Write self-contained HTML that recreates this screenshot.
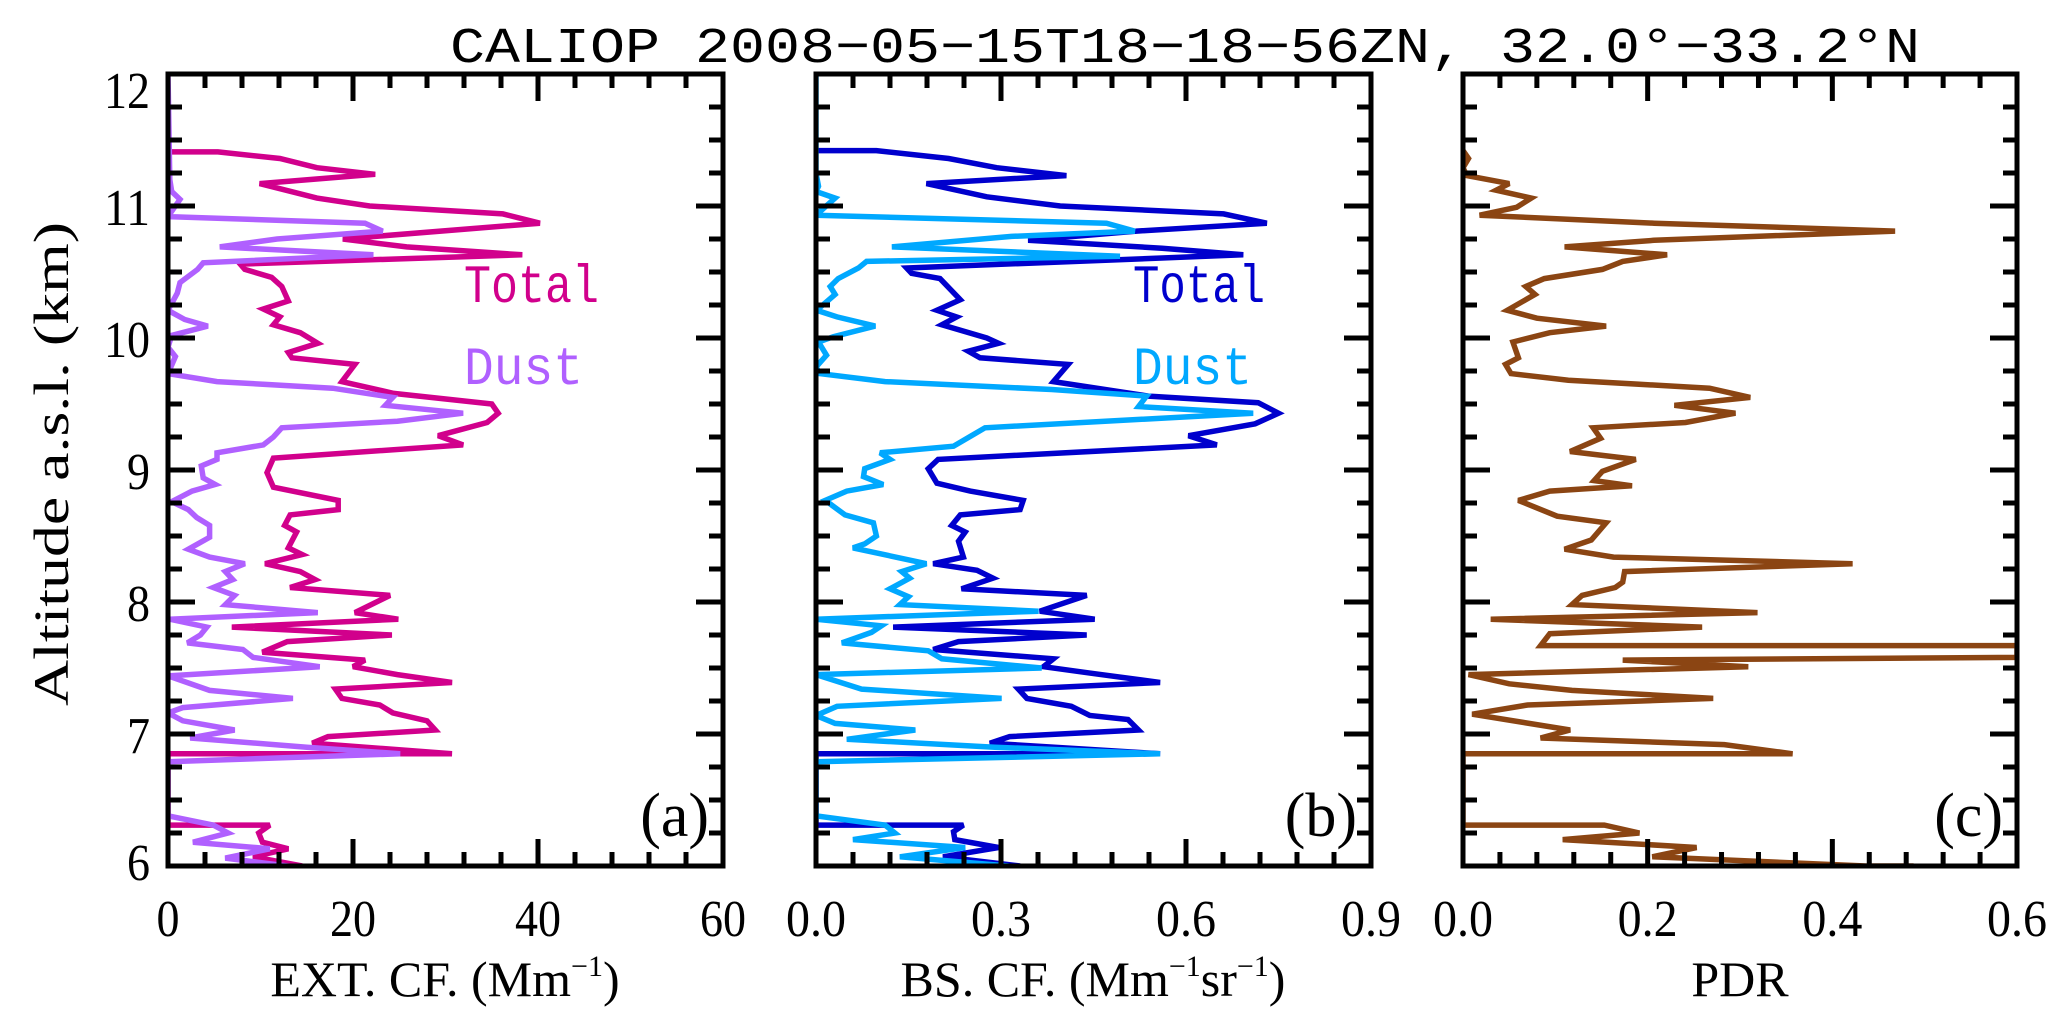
<!DOCTYPE html>
<html><head><meta charset="utf-8"><style>
html,body{margin:0;padding:0;background:#fff;}
svg{display:block;}
</style></head><body>
<svg id="chart" width="2067" height="1020" viewBox="0 0 2067 1020" xmlns="http://www.w3.org/2000/svg">
<rect width="2067" height="1020" fill="#fff"/>
<text x="1185" y="62" text-anchor="middle" font-family="Liberation Mono, monospace" font-size="50" textLength="1470" lengthAdjust="spacingAndGlyphs">CALIOP 2008−05−15T18−18−56ZN, 32.0°−33.2°N</text>
<text transform="translate(68,464) rotate(-90)" text-anchor="middle" font-family="Liberation Serif, serif" font-size="50" textLength="484" lengthAdjust="spacingAndGlyphs">Altitude a.s.l. (km)</text>
<g id="layer"></g>
</svg>
<script>
// ---- data (altitude km / values) ----
const extTotalAlt=[11.41,11.41,11.36,11.29,11.24,11.17,11.06,11.0,10.94,10.87,10.75,10.69,10.63,10.56,10.52,10.46,10.39,10.28,10.22,10.16,10.1,10.04,9.96,9.89,9.85,9.8,9.67,9.58,9.5,9.43,9.36,9.26,9.19,9.09,8.98,8.87,8.77,8.7,8.66,8.58,8.53,8.41,8.36,8.29,8.23,8.17,8.11,8.05,7.92,7.87,7.81,7.75,7.7,7.62,7.56,7.51,7.45,7.39,7.34,7.27,7.22,7.16,7.1,7.03,6.98,6.93,6.85,6.85,6.31,6.31,6.25,6.18,6.13,6.07,6.0];
const extTotalVal=[0,5.4,12.1,16.1,22.4,9.9,16.1,21.8,36.2,40.2,18.9,25.8,38.3,7.8,8.3,11.2,12.3,13.0,10.3,12.1,11.4,14.3,16.2,13.0,13.4,20.2,18.8,24.4,35.0,35.7,34.5,29.2,31.9,11.4,10.7,11.4,18.4,18.4,13.2,12.6,13.9,13.0,14.5,10.5,14.3,15.9,13.2,24.0,20.2,24.9,6.9,24.2,12.9,10.2,21.3,20.0,24.8,30.7,18.1,18.8,22.9,24.3,28.0,28.9,17.3,15.6,30.7,0,0,11.0,9.8,10.2,13.0,9.2,14.5];
const extDustAlt=[12.0,11.2,11.11,11.05,10.92,10.87,10.81,10.75,10.69,10.63,10.57,10.52,10.42,10.34,10.21,10.14,10.09,10.02,9.93,9.86,9.73,9.67,9.62,9.55,9.49,9.43,9.37,9.32,9.25,9.19,9.13,9.08,9.03,8.94,8.89,8.84,8.76,8.7,8.64,8.58,8.49,8.4,8.34,8.29,8.23,8.17,8.11,8.05,7.98,7.92,7.87,7.81,7.75,7.69,7.64,7.58,7.51,7.44,7.33,7.27,7.2,7.16,7.1,7.03,6.97,6.9,6.85,6.79,6.38,6.31,6.25,6.18,6.13,6.06,5.99];
const extDustVal=[0,0.2,0.4,1.3,0,21.3,23.2,11.8,5.6,22.2,3.8,3.2,1.3,1.0,0,1.8,4.3,0.4,0,0.8,0,5.3,17.8,24.3,23.5,31.9,24.8,12.3,11.4,10.3,5.3,5.3,3.6,3.8,5.1,2.6,0.4,2.2,3.1,4.5,4.5,2.2,4.5,8.3,6.2,7.0,4.9,7.2,6.2,16.2,0.2,4.2,3.5,2.1,8.1,9.2,16.4,0,4.5,13.5,1.6,0,1.6,7.2,2.4,15.0,25.1,0,0,4.9,6.5,2.7,11.0,6.2,14.1];
const bsTotalAlt=[11.42,11.42,11.36,11.29,11.23,11.17,11.07,11.0,10.94,10.87,10.81,10.74,10.68,10.63,10.53,10.49,10.45,10.29,10.21,10.16,10.1,10.0,9.96,9.9,9.85,9.8,9.67,9.56,9.51,9.43,9.35,9.26,9.19,9.08,9.01,8.9,8.84,8.77,8.7,8.66,8.58,8.53,8.46,8.34,8.29,8.24,8.18,8.1,8.05,7.93,7.87,7.81,7.75,7.7,7.64,7.57,7.51,7.46,7.39,7.34,7.27,7.21,7.14,7.11,7.03,6.98,6.93,6.85,6.85,6.31,6.31,6.26,6.2,6.14,6.07,6.0];
const bsTotalVal=[0,0.098,0.215,0.293,0.406,0.179,0.277,0.396,0.661,0.731,0.52,0.344,0.561,0.693,0.147,0.155,0.201,0.234,0.196,0.228,0.204,0.277,0.296,0.247,0.266,0.409,0.385,0.539,0.717,0.75,0.712,0.604,0.65,0.198,0.182,0.196,0.25,0.336,0.331,0.234,0.22,0.242,0.231,0.239,0.19,0.261,0.287,0.236,0.439,0.363,0.452,0.125,0.439,0.231,0.19,0.385,0.369,0.447,0.558,0.328,0.342,0.414,0.444,0.506,0.523,0.314,0.282,0.558,0,0,0.239,0.223,0.225,0.296,0.206,0.331];
const bsDustAlt=[12.0,11.25,11.15,11.11,11.06,10.93,10.87,10.81,10.77,10.69,10.65,10.62,10.58,10.53,10.45,10.39,10.33,10.21,10.16,10.09,10.01,9.97,9.87,9.78,9.73,9.67,9.61,9.56,9.48,9.43,9.32,9.26,9.18,9.13,9.08,9.01,8.95,8.89,8.84,8.77,8.66,8.6,8.5,8.44,8.41,8.29,8.23,8.18,8.1,8.04,7.98,7.93,7.87,7.82,7.77,7.69,7.63,7.57,7.5,7.45,7.34,7.27,7.21,7.14,7.08,7.03,6.96,6.9,6.85,6.79,6.38,6.31,6.25,6.2,6.14,6.07,6.0];
const bsDustVal=[0,0,0.004,0,0.031,0,0.471,0.517,0.317,0.123,0.334,0.493,0.082,0.069,0.036,0.023,0.031,0.001,0.034,0.096,0.028,0.004,0.017,0,0.006,0.112,0.382,0.536,0.523,0.709,0.274,0.252,0.223,0.104,0.12,0.079,0.077,0.109,0.05,0.015,0.047,0.093,0.098,0.079,0.06,0.179,0.139,0.152,0.12,0.15,0.136,0.361,0,0.106,0.09,0.042,0.182,0.204,0.366,0,0.074,0.301,0.034,0,0.031,0.161,0.05,0.29,0.558,0,0,0.112,0.128,0.06,0.242,0.136,0.312];
const pdrAlt=[11.42,11.36,11.29,11.23,11.17,11.12,11.06,10.99,10.93,10.87,10.81,10.74,10.69,10.63,10.58,10.52,10.45,10.39,10.33,10.21,10.15,10.09,10.04,9.97,9.85,9.8,9.73,9.68,9.62,9.55,9.49,9.43,9.36,9.32,9.24,9.14,9.08,8.99,8.92,8.88,8.84,8.77,8.65,8.6,8.47,8.4,8.34,8.29,8.23,8.15,8.11,8.05,7.98,7.92,7.87,7.81,7.76,7.67,7.67,7.58,7.56,7.51,7.45,7.38,7.33,7.27,7.22,7.15,7.03,6.97,6.92,6.85,6.85,6.31,6.31,6.25,6.2,6.14,6.07,6.0,6.0];
const pdrVal=[0,0.006,0,0.004,0.05,0.036,0.074,0.058,0.018,0.207,0.468,0.207,0.11,0.221,0.173,0.151,0.088,0.068,0.078,0.048,0.08,0.155,0.094,0.054,0.06,0.046,0.052,0.114,0.267,0.311,0.229,0.295,0.241,0.141,0.149,0.116,0.187,0.151,0.142,0.183,0.094,0.06,0.102,0.155,0.139,0.11,0.163,0.422,0.175,0.173,0.165,0.129,0.118,0.319,0.03,0.259,0.094,0.084,0.6,0.6,0.173,0.309,0.006,0.05,0.118,0.271,0.07,0.01,0.116,0.084,0.283,0.357,0,0,0.153,0.191,0.108,0.253,0.205,0.436,0.488];
const extTicks=["0","20","40","60"];
const bsTicks=["0.0","0.3","0.6","0.9"];
const pdrTicks=["0.0","0.2","0.4","0.6"];
const altTicks=["6","7","8","9","10","11","12"];

const NS="http://www.w3.org/2000/svg";
const layer=document.getElementById('layer');
const TOP=74, BOT=866, YMIN=6, YMAX=12;
function yScale(a){return BOT-(a-YMIN)/(YMAX-YMIN)*(BOT-TOP);}
const panels=[
 {name:'a',left:168,right:723,max:60,major:20,minor:4,ticks:extTicks,lbl:'(a)'},
 {name:'b',left:816,right:1371,max:0.9,major:0.3,minor:0.06,ticks:bsTicks,lbl:'(b)'},
 {name:'c',left:1463,right:2017,max:0.6,major:0.2,minor:0.04,ticks:pdrTicks,lbl:'(c)'}
];
function mk(tag,attrs,parent){const e=document.createElementNS(NS,tag);for(const k in attrs)e.setAttribute(k,attrs[k]);(parent||layer).appendChild(e);return e;}
function xs(p,v){return p.left+v/p.max*(p.right-p.left);}
function tlen(s){let w=0;for(const c of s)w+=(c==='.'?14:23);return w;}

const defs=mk('defs',{});
panels.forEach(p=>{const c=mk('clipPath',{id:'clip-'+p.name},defs);mk('rect',{x:p.left,y:TOP,width:p.right-p.left,height:BOT-TOP},c);});

function drawSeries(p,alts,vals,color,name){
  let d='';
  for(let i=0;i<alts.length;i++){d+=(i?'L':'M')+xs(p,vals[i]).toFixed(1)+','+yScale(alts[i]).toFixed(1);}
  const path=mk('path',{d:d,fill:'none',stroke:color,'stroke-width':5.5,'stroke-linejoin':'miter','stroke-miterlimit':3,'clip-path':'url(#clip-'+p.name+')'});
  
  
}
drawSeries(panels[0],extTotalAlt,extTotalVal,'#D1008C','ext-total-line');
drawSeries(panels[0],extDustAlt,extDustVal,'#B060FF','ext-dust-line');
drawSeries(panels[1],bsTotalAlt,bsTotalVal,'#0000CD','bs-total-line');
drawSeries(panels[1],bsDustAlt,bsDustVal,'#00A8FF','bs-dust-line');
drawSeries(panels[2],pdrAlt,pdrVal,'#8B4513','pdr-line');

panels.forEach((p,pi)=>{
  const g=mk('g',{});
  
  
  mk('rect',{x:p.left,y:TOP,width:p.right-p.left,height:BOT-TOP,fill:'none',stroke:'#000','stroke-width':5},g);
  const nMinor=Math.round(p.max/p.minor);
  const per=Math.round(p.major/p.minor);
  for(let i=0;i<=nMinor;i++){
    const x=xs(p,i*p.minor);const L=(i%per===0)?27:14;
    mk('line',{x1:x,y1:BOT,x2:x,y2:BOT-L,stroke:'#000','stroke-width':5},g);
    mk('line',{x1:x,y1:TOP,x2:x,y2:TOP+L,stroke:'#000','stroke-width':5},g);
  }
  for(let i=0;i<=24;i++){
    const y=yScale(YMIN+i*0.25);const L=(i%4===0)?27:14;
    mk('line',{x1:p.left,y1:y,x2:p.left+L,y2:y,stroke:'#000','stroke-width':5},g);
    mk('line',{x1:p.right,y1:y,x2:p.right-L,y2:y,stroke:'#000','stroke-width':5},g);
  }
  p.ticks.forEach((t,i)=>{
    const tx=mk('text',{x:xs(p,i*p.major),y:936,'text-anchor':'middle','font-family':'Liberation Serif, serif','font-size':52,textLength:tlen(t),lengthAdjust:'spacingAndGlyphs'},g);
    tx.textContent=t;
    
    
  });
  const pl=mk('text',{x:p.right-14,y:836,'text-anchor':'end','font-family':'Liberation Serif, serif','font-size':62},g);
  pl.textContent=p.lbl;
  
  
});
altTicks.forEach((t,i)=>{
  const a=YMIN+i;let y=yScale(a)+19;
  if(i===altTicks.length-1)y=yScale(a)+34;
  if(i===0)y=yScale(a)+14;
  const tx=mk('text',{x:150,y:y,'text-anchor':'end','font-family':'Liberation Serif, serif','font-size':52,textLength:tlen(t),lengthAdjust:'spacingAndGlyphs'});
  tx.textContent=t;
  
  
});
function xTitle(cx,parts,name){
  const t=mk('text',{x:cx,y:996,'text-anchor':'middle','font-family':'Liberation Serif, serif','font-size':50});
  
  
  parts.forEach(pt=>{const s=mk('tspan',pt.sup?{'font-size':30,dy:-20}:(pt.down?{dy:20}:{}),t);s.textContent=pt.t;});
}
xTitle(445,[{t:'EXT. CF. (Mm'},{t:'−1',sup:true},{t:')',down:true}],'x-axis-title-ext');
xTitle(1093,[{t:'BS. CF. (Mm'},{t:'−1',sup:true},{t:'sr',down:true},{t:'−1',sup:true},{t:')',down:true}],'x-axis-title-bs');
xTitle(1740,[{t:'PDR'}],'x-axis-title-pdr');
function leg(x,y,txt,col,w,name){
  const t=mk('text',{x:x,y:y,'font-family':'Liberation Mono, monospace','font-size':54,fill:col,textLength:w,lengthAdjust:'spacingAndGlyphs'});
  t.textContent=txt;
  
  
}
leg(464,302,'Total','#D1008C',135,'legend-total-ext');
leg(464,384,'Dust','#B060FF',119,'legend-dust-ext');
leg(1133,302,'Total','#0000CD',132,'legend-total-bs');
leg(1133,384,'Dust','#00A8FF',119,'legend-dust-bs');
</script>
</body></html>
